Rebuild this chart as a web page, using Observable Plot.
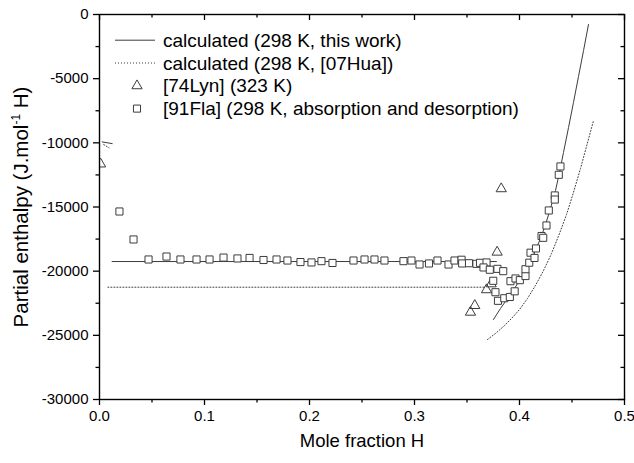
<!DOCTYPE html>
<html><head><meta charset="utf-8">
<script src="https://cdn.jsdelivr.net/npm/d3@7"></script>
<script src="https://cdn.jsdelivr.net/npm/@observablehq/plot@0.6"></script>
<style>
body{margin:0;background:#fff}
svg{font-family:"Liberation Sans",Arial,sans-serif}
</style>
</head><body><div id="chart"></div>
<script>
// ---- data ----
// calculated (298 K, this work) - solid
const thisWorkLowX = [0.0026, 0.0121];
const thisWorkLowY = [-9930, -10060];
const thisWorkFlatX = [0.012, 0.378];
const thisWorkFlatY = [-19250, -19250];
const thisWorkCurveX = [0.3752,0.3819,0.3886,0.3952,0.4019,0.4086,0.4143,0.4200,0.4248,0.4295,0.4343,0.4381,0.4419,0.4467,0.4514,0.4562,0.4610,0.4657];
const thisWorkCurveY = [-23766,-22909,-22130,-21350,-20493,-19558,-18545,-17455,-16364,-15117,-13714,-12312,-10753,-8805,-6857,-4831,-2805,-779];
// calculated (298 K, [07Hua]) - dotted
const huaLowX = [0.004, 0.009];
const huaLowY = [-10130, -10390];
const huaFlatX = [0.008, 0.368];
const huaFlatY = [-21250, -21250];
const huaCurveX = [0.3695,0.3771,0.3848,0.3924,0.4000,0.4076,0.4152,0.4229,0.4305,0.4381,0.4448,0.4514,0.4581,0.4638,0.4705];
const huaCurveY = [-25325,-24857,-24312,-23688,-22987,-22130,-21117,-19948,-18623,-17065,-15584,-13870,-12000,-10286,-8260];
// [74Lyn] (323 K) - triangles
const lynX = [0.001, 0.3826, 0.3787, 0.3730, 0.3686, 0.3574, 0.3533];
const lynY = [-11650, -13580, -18520, -20990, -21450, -22680, -23200];
// [91Fla] (298 K) - squares
const flaX = [0.0190,0.0324,0.0467,0.0638,0.0771,0.0924,0.1048,0.1181,0.1314,0.1429,0.1562,0.1686,0.1790,0.1914,0.2019,0.2114,0.2219,0.2419,0.2524,0.2619,0.2714,0.2895,0.2971,0.3048,0.3138,0.3219,0.3324,0.3381,0.3448,0.3454,0.3519,0.3590,0.3624,0.3686,0.3657,0.3717,0.3790,0.3845,0.3750,0.3771,0.3795,0.3855,0.3908,0.3954,0.3914,0.3962,0.4003,0.4057,0.4057,0.4093,0.4105,0.4143,0.4157,0.4210,0.4226,0.4257,0.4279,0.4336,0.4336,0.4374,0.4390];
const flaY = [-15350,-17530,-19090,-18860,-19090,-19090,-19090,-18940,-19010,-18970,-19130,-19090,-19170,-19290,-19320,-19220,-19360,-19170,-19090,-19090,-19170,-19220,-19170,-19480,-19400,-19170,-19480,-19170,-19110,-19400,-19380,-19430,-19350,-19320,-19710,-19890,-19820,-20000,-20750,-21640,-22310,-22110,-22010,-21570,-20780,-20570,-20700,-20380,-19850,-19340,-18560,-18970,-18230,-17260,-17400,-16440,-15270,-14100,-14420,-12490,-11840];
// axes
const xMajor = [0, 0.1, 0.2, 0.3, 0.4, 0.5];
const xMinor = [0.05, 0.15, 0.25, 0.35, 0.45];
const yMajor = [0, -5000, -10000, -15000, -20000, -25000, -30000];
const yMinor = [-2500, -7500, -12500, -17500, -22500, -27500];
const xTitle = "Mole fraction H";
const yTitle = "Partial enthalpy (J.mol-1 H)";
const legendLabels = [
  "calculated (298 K, this work)",
  "calculated (298 K, [07Hua])",
  "[74Lyn] (323 K)",
  "[91Fla] (298 K, absorption and desorption)"
];

const rows = (xs, ys, k) => xs.map((x, i) => ({x, y: ys[i], k}));
const solidRows = [...rows(thisWorkLowX, thisWorkLowY, "a"), ...rows(thisWorkFlatX, thisWorkFlatY, "b"), ...rows(thisWorkCurveX, thisWorkCurveY, "c")];
const dottedRows = [...rows(huaLowX, huaLowY, "a"), ...rows(huaFlatX, huaFlatY, "b"), ...rows(huaCurveX, huaCurveY, "c")];
const lynRows = rows(lynX, lynY);
const flaRows = rows(flaX, flaY);

const W = 634, H = 463, mL = 99, mR = 10, mT = 14, mB = 64;
const innerW = W - mL - mR, innerH = H - mT - mB;
const ink = "#3c3c3c";

const chart = Plot.plot({
  width: W, height: H,
  marginLeft: mL, marginRight: mR, marginTop: mT, marginBottom: mB,
  style: {fontFamily: "Liberation Sans, Arial, sans-serif", fontSize: "15px", color: "black", background: "white", overflow: "visible"},
  x: {domain: [0, 0.5]},
  y: {domain: [-30000, 0]},
  marks: [
    Plot.line(dottedRows, {x: "x", y: "y", z: "k", stroke: ink, strokeWidth: 1, strokeDasharray: "1,2"}),
    Plot.line(solidRows, {x: "x", y: "y", z: "k", stroke: ink, strokeWidth: 1}),
    Plot.dot(lynRows, {x: "x", y: "y", symbol: "triangle", r: 3.8, stroke: ink, fill: "none", strokeWidth: 1, clip: true}),
    Plot.dot(flaRows, {x: "x", y: "y", symbol: "square", r: 4, stroke: ink, fill: "white", strokeWidth: 1}),
    Plot.axisX(xMajor, {tickSize: 6, tickPadding: 5, tickFormat: d3.format(".1f"), label: null, strokeWidth: 1.3}),
    Plot.axisX(xMinor, {tickSize: 3.5, tickFormat: () => "", label: null, strokeWidth: 1.3}),
    Plot.axisY(yMajor, {tickSize: 6, tickPadding: 5, tickFormat: d => String(d), label: null, strokeWidth: 1.3}),
    Plot.axisY(yMinor, {tickSize: 3.5, tickFormat: () => "", label: null, strokeWidth: 1.3}),
    Plot.tickX(xMajor, {x: d => d, insetBottom: innerH - 6, stroke: "black", strokeWidth: 1.3}),
    Plot.tickX(xMinor, {x: d => d, insetBottom: innerH - 3.5, stroke: "black", strokeWidth: 1.3}),
    Plot.tickY(yMajor, {y: d => d, insetLeft: innerW - 6, stroke: "black", strokeWidth: 1.3}),
    Plot.tickY(yMinor, {y: d => d, insetLeft: innerW - 3.5, stroke: "black", strokeWidth: 1.3}),
    Plot.frame({stroke: "black", strokeWidth: 1.4}),
    Plot.text([xTitle], {frameAnchor: "bottom", dy: 47, fontSize: 18.5, fill: "black", textAnchor: "middle"}),
    Plot.text([yTitle], {frameAnchor: "left", dx: -78, rotate: -90, fontSize: 20.5, fill: "black", textAnchor: "middle"})
  ]
});

// superscript in y title
const svg = d3.select(chart);
svg.selectAll("text").filter(function() { return this.textContent === yTitle; }).each(function() {
  const t = d3.select(this);
  t.text(null);
  t.append("tspan").text("Partial enthalpy (J.mol");
  t.append("tspan").attr("dy", "-8").attr("font-size", "12px").text("-1");
  t.append("tspan").attr("dy", "8").text(" H)");
});

// legend
const legendTypes = ["solid", "dotted", "triangle", "square"];
const g = svg.append("g").attr("font-size", "19px").attr("fill", "black").attr("text-anchor", "start");
legendLabels.forEach((label, i) => {
  const base = 46.7 + i * 22.8;
  const cy = base - 6.5;
  const type = legendTypes[i];
  if (type === "solid" || type === "dotted") {
    g.append("line").attr("x1", 115).attr("x2", 155).attr("y1", cy).attr("y2", cy)
      .attr("stroke", ink).attr("stroke-width", 1)
      .attr("stroke-dasharray", type === "dotted" ? "1,2" : null);
  } else {
    g.append("path")
      .attr("d", d3.symbol(type === "triangle" ? d3.symbolTriangle : d3.symbolSquare, type === "triangle" ? 45 : 50)())
      .attr("transform", `translate(137,${cy})`)
      .attr("fill", "none").attr("stroke", ink).attr("stroke-width", 1);
  }
  g.append("text").attr("x", 163).attr("y", base).attr("text-anchor", "start").text(label);
});

document.getElementById("chart").appendChild(chart);
</script>
</body></html>
